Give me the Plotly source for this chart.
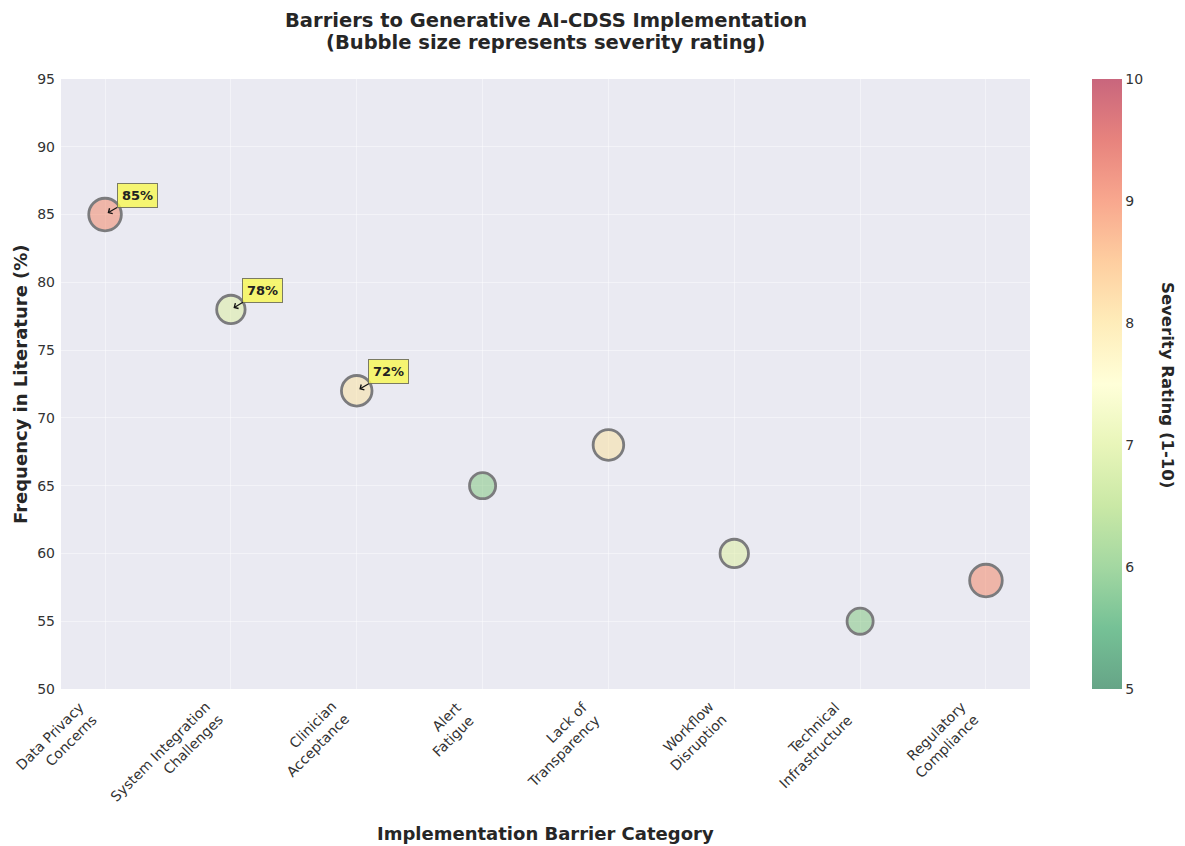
import numpy as np
import plotly.graph_objects as go

categories = ["Data Privacy<br>Concerns", "System Integration<br>Challenges", "Clinician<br>Acceptance",
              "Alert<br>Fatigue", "Lack of<br>Transparency", "Workflow<br>Disruption",
              "Technical<br>Infrastructure", "Regulatory<br>Compliance"]
frequency = [85, 78, 72, 65, 68, 60, 55, 58]
severity = [9, 7, 8, 6, 8, 7, 6, 9]
y_ticks = [50, 55, 60, 65, 70, 75, 80, 85, 90, 95]
cbar_ticks = [5, 6, 7, 8, 9, 10]

FONT = "DejaVu Sans"
TXT = "#262626"

# RdYlGn reversed, alpha 0.6
rdylgn = ['#a50026', '#d73027', '#f46d43', '#fdae61', '#fee08b', '#ffffbf',
          '#d9ef8b', '#a6d96a', '#66bd63', '#1a9850', '#006837'][::-1]
def rgba(h, a=0.6):
    h = h.lstrip('#')
    return f"rgba({int(h[0:2],16)},{int(h[2:4],16)},{int(h[4:6],16)},{a})"
colorscale = [[i / 10, rgba(c)] for i, c in enumerate(rdylgn)]

x_idx = list(range(len(categories)))
sizes = [11.8 * np.sqrt(s) - 2.8 for s in severity]

fig = go.Figure()
fig.add_trace(go.Scatter(
    x=x_idx, y=frequency, mode="markers",
    marker=dict(size=sizes, color=severity, cmin=5, cmax=10, colorscale=colorscale,
                line=dict(color="#4d4d4d", width=2.8),
                showscale=True,
                colorbar=dict(x=1.064, xanchor="left", xpad=0, y=0.5, yanchor="middle", len=1, lenmode="fraction",
                              thickness=30, outlinewidth=0, tickvals=cbar_ticks, ticks="",
                              tickfont=dict(family=FONT, size=14, color="#333333"),
                              ypad=0)),
    hoverinfo="skip", showlegend=False))

top3 = sorted(range(len(frequency)), key=lambda i: -frequency[i])[:3]
annotations = []
for i in top3:
    annotations.append(dict(
        x=i, y=frequency[i], xref="x", yref="y", text=f"<b>{frequency[i]}%</b>",
        showarrow=True, arrowhead=4, arrowsize=1, arrowwidth=1.2, arrowcolor="#111111",
        ax=32, ay=-19, standoff=3,
        font=dict(family=FONT, size=13, color="#222222"),
        bgcolor="rgba(248,248,80,0.8)", bordercolor="rgba(110,110,90,0.9)", borderwidth=1, borderpad=4))

# rotated category labels (anchored on their rotated bounding box)
for i, c in enumerate(categories):
    annotations.append(dict(
        x=i, y=0, xref="x", yref="paper", text=c, showarrow=False, textangle=-45,
        xanchor="right", yanchor="top", align="right", yshift=-7, xshift=-2,
        font=dict(family=FONT, size=14, color="#333333")))

plot_top, plot_bottom = 79, 689
def py(px):
    return (plot_bottom - px) / (plot_bottom - plot_top)

annotations += [
    dict(text="<b>Barriers to Generative AI-CDSS Implementation</b>", xref="paper", yref="paper",
         x=0.5, y=py(20), xanchor="center", yanchor="middle", showarrow=False,
         font=dict(family=FONT, size=19.5, color=TXT)),
    dict(text="<b>(Bubble size represents severity rating)</b>", xref="paper", yref="paper",
         x=0.5, y=py(42), xanchor="center", yanchor="middle", showarrow=False,
         font=dict(family=FONT, size=19.5, color=TXT)),
    dict(text="<b>Implementation Barrier Category</b>", xref="paper", yref="paper",
         x=0.5, y=py(833), xanchor="center", yanchor="middle", showarrow=False,
         font=dict(family=FONT, size=18, color=TXT)),
    dict(text="<b>Frequency in Literature (%)</b>", xref="paper", yref="paper",
         x=-0.0423, y=0.5, xanchor="center", yanchor="middle", showarrow=False, textangle=-90,
         font=dict(family=FONT, size=18, color=TXT)),
    dict(text="<b>Severity Rating (1-10)</b>", xref="paper", yref="paper",
         x=(1168 - 61) / 969, y=py(385), xanchor="center", yanchor="middle", showarrow=False, textangle=90,
         font=dict(family=FONT, size=16.5, color=TXT)),
]

fig.update_layout(
    width=1185, height=846,
    margin=dict(l=61, r=155, t=79, b=157),
    paper_bgcolor="white", plot_bgcolor="#EAEAF2",
    annotations=annotations,
)
fig.update_xaxes(range=[-0.35, 7.35], tickmode="array", tickvals=x_idx, showticklabels=False,
                 showgrid=True, gridcolor="rgba(255,255,255,0.45)", gridwidth=1,
                 zeroline=False, showline=False, ticks="")
fig.update_yaxes(range=[50, 95], tickmode="array", tickvals=y_ticks,
                 showgrid=True, gridcolor="rgba(255,255,255,0.45)", gridwidth=1,
                 zeroline=False, showline=False, ticks="", ticklabelstandoff=5,
                 tickfont=dict(family=FONT, size=14, color="#333333"))

fig.write_html("out.html")
